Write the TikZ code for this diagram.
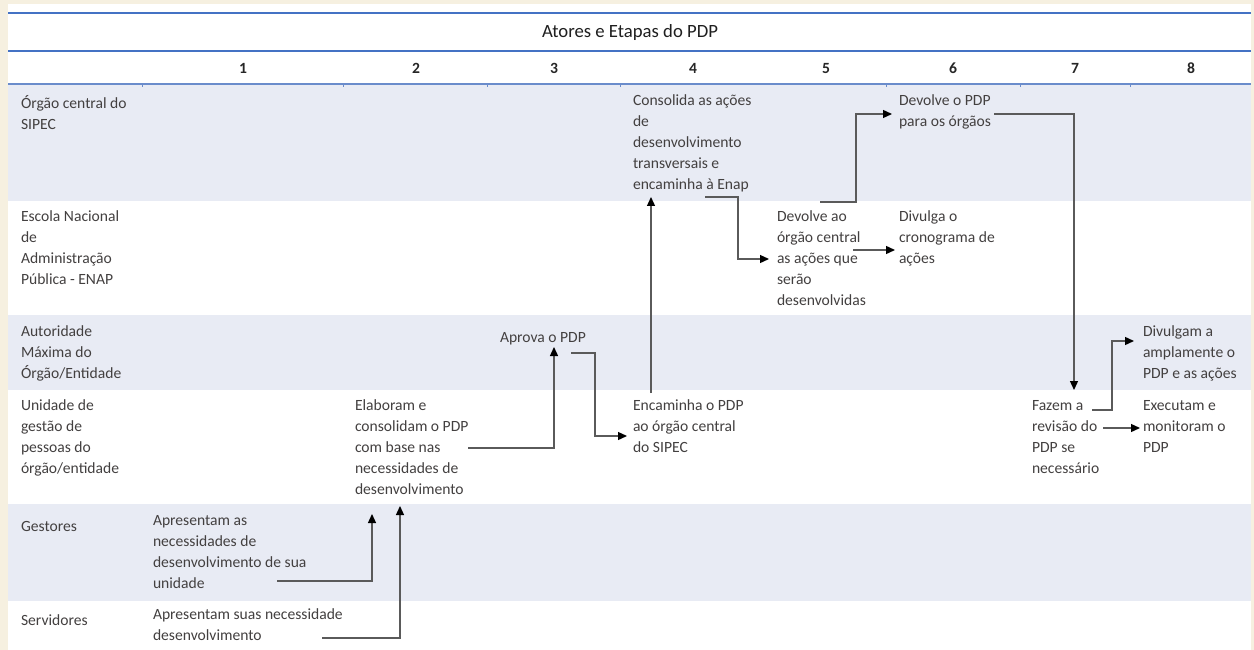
\documentclass[tikz,border=0pt]{standalone}
\usepackage{fontspec}
\setmainfont{Carlito}
\usetikzlibrary{arrows.meta}
\definecolor{cream}{HTML}{F6F0E0}
\definecolor{rowshade}{HTML}{E8EBF4}
\definecolor{rule}{HTML}{4472C4}
\definecolor{thinrule}{HTML}{6A8CCB}
\definecolor{txt}{HTML}{434040}
\definecolor{conn}{HTML}{5A5A5A}
\tikzset{
  cell/.style={anchor=north west, inner sep=0pt, outer sep=0pt, align=left, text=txt,
    font=\fontsize{15.6}{21}\selectfont, execute at begin node={\rule{0pt}{16pt}}},
  colnum/.style={anchor=base, inner sep=0pt, text=black!85, font=\fontsize{15.6}{18}\selectfont\bfseries},
  flow/.style={draw=conn, line width=1.3pt, -{Triangle[length=9pt,width=8pt,fill=black,color=black]}},
}
\begin{document}
\begin{tikzpicture}[x=1pt,y=-1pt]
\useasboundingbox (0,0) rectangle (1254,650);
\fill[cream] (0,0) rectangle (1254,650);
\fill[white] (8,4) rectangle (1251,650);
% shaded rows
\fill[rowshade] (8,84) rectangle (1251,201);
\fill[rowshade] (8,315) rectangle (1251,390);
\fill[rowshade] (8,504) rectangle (1251,601);
% header rules
\draw[rule, line width=2.2pt] (8,13) -- (1251,13);
\draw[rule, line width=2.2pt] (8,51) -- (1251,51);
\draw[thinrule, line width=1.3pt] (8,84) -- (1251,84);
\foreach \tx in {142,343,487,620,886,1020,1130}
  \draw[thinrule, line width=1pt] (\tx,84) -- (\tx,87);
% title and column numbers
\node[anchor=base, inner sep=0pt, text=black!88, font=\fontsize{18.7}{22}\selectfont] (title) at (630,38) {Atores e Etapas do PDP};
\node[colnum] (n1) at (243,74) {1};
\node[colnum] (n2) at (416,74) {2};
\node[colnum] (n3) at (554,74) {3};
\node[colnum] (n4) at (693,74) {4};
\node[colnum] (n5) at (826,74) {5};
\node[colnum] (n6) at (953,74) {6};
\node[colnum] (n7) at (1075,74) {7};
\node[colnum] (n8) at (1191,74) {8};
% row labels
\node[cell] (lab1) at (21,95) {Órgão central do\\SIPEC};
\node[cell] (lab2) at (21,211) {Escola Nacional\\de\\Administração\\Pública - ENAP};
\node[cell] (lab3) at (21,326) {Autoridade\\Máxima do\\Órgão/Entidade};
\node[cell] (lab4) at (21,400) {Unidade de\\gestão de\\pessoas do\\órgão/entidade};
\node[cell] (lab5) at (21,515) {Gestores};
\node[cell] (lab6) at (21,609) {Servidores};
% cells
\node[cell] (c4r1) at (633,95) {Consolida as ações\\de\\desenvolvimento\\transversais e\\encaminha à Enap};
\node[cell] (c6r1) at (899,95) {Devolve o PDP\\para os órgãos};
\node[cell] (c5r2) at (777,211) {Devolve ao\\órgão central\\as ações que\\serão\\desenvolvidas};
\node[cell] (c6r2) at (899,211) {Divulga o\\cronograma de\\ações};
\node[cell] (c3r3) at (500,326) {Aprova o PDP};
\node[cell] (c8r3) at (1143,326) {Divulgam a\\amplamente o\\PDP e as ações};
\node[cell] (c2r4) at (355,400) {Elaboram e\\consolidam o PDP\\com base nas\\necessidades de\\desenvolvimento};
\node[cell] (c4r4) at (633,400) {Encaminha o PDP\\ao órgão central\\do SIPEC};
\node[cell] (c7r4) at (1032,400) {Fazem a\\revisão do\\PDP se\\necessário};
\node[cell] (c8r4) at (1143,400) {Executam e\\monitoram o\\PDP};
\node[cell] (c1r5) at (153,515) {Apresentam as\\necessidades de\\desenvolvimento de sua\\unidade};
\node[cell] (c1r6) at (153,609) {Apresentam suas necessidade\\desenvolvimento};
% connector endpoints
\coordinate (g-out) at (277,581);   \coordinate (el-in1) at (372,514);
\coordinate (s-out) at (322,638);   \coordinate (el-in2) at (400,506);
\coordinate (el-out) at (468,448);  \coordinate (ap-in) at (554,347);
\coordinate (ap-out) at (571,353);  \coordinate (en-in) at (627,436);
\coordinate (en-out) at (651,393);  \coordinate (co-in) at (651,197);
\coordinate (co-out) at (705,197);  \coordinate (dv-in) at (769,259);
\coordinate (dv-out) at (820,202);  \coordinate (dp-in) at (892,114);
\coordinate (dp-out) at (994,114);  \coordinate (fz-in) at (1074,390);
\coordinate (dv-out2) at (853,250); \coordinate (cr-in) at (895,250);
\coordinate (fz-out) at (1092,410); \coordinate (dg-in) at (1134,341);
\coordinate (fz-out2) at (1103,428);\coordinate (ex-in) at (1140,428);
% connectors
\draw[flow] (g-out) -| (el-in1);
\draw[flow] (s-out) -| (el-in2);
\draw[flow] (el-out) -| (ap-in);
\draw[flow] (ap-out) -| (595,436) -- (en-in);
\draw[flow] (en-out) -- (co-in);
\draw[flow] (co-out) -| (738,259) -- (dv-in);
\draw[flow] (dv-out) -| (856,114) -- (dp-in);
\draw[flow] (dp-out) -| (fz-in);
\draw[flow] (dv-out2) -- (cr-in);
\draw[flow] (fz-out) -| (1112,341) -- (dg-in);
\draw[flow] (fz-out2) -- (ex-in);
\end{tikzpicture}
\end{document}
